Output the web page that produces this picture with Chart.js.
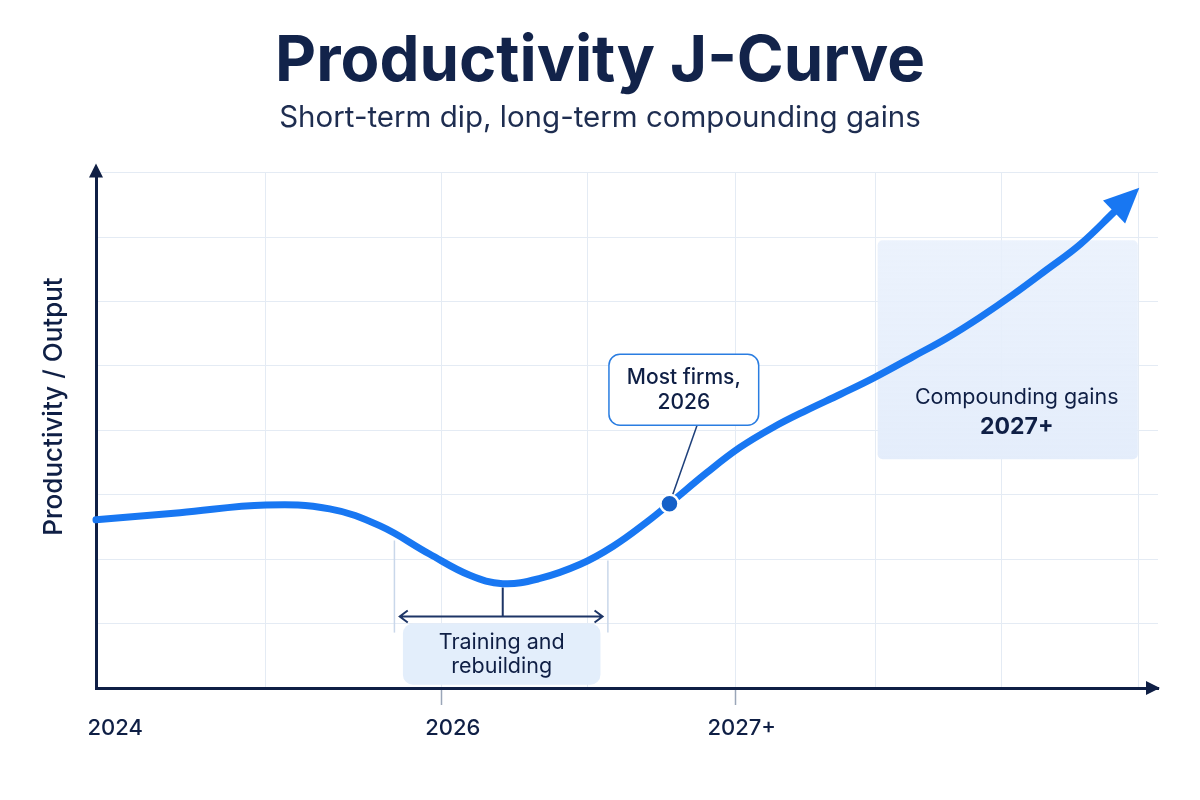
<!DOCTYPE html>
<html><head><meta charset="utf-8">
<script src="https://cdn.jsdelivr.net/npm/chart.js@4.4.1/dist/chart.umd.min.js"></script>
<style>html,body{margin:0;padding:0;background:#fff;}</style>
</head><body>
<canvas id="c" width="1200" height="800"></canvas>
<script>
// ---- data ----
const xValues      = [0, 7.9, 16.0, 22.0, 26.7, 31.4, 35.2, 38.3, 41.8, 45.6, 48.7, 51.9, 54.0, 57.5, 60.6, 63.7, 66.9, 70.1, 73.2, 76.9, 80.1, 83.2, 86.3, 89.5, 92.7, 96.0];
const productivity = [2.61, 2.72, 2.84, 2.78, 2.52, 2.08, 1.75, 1.62, 1.70, 1.92, 2.20, 2.58, 2.86, 3.34, 3.73, 4.04, 4.31, 4.56, 4.81, 5.14, 5.43, 5.75, 6.10, 6.49, 6.89, 7.41];
const markerX = [54.0];
const markerY = [2.86];
const xTickValues = [1.8, 33.6, 60.8];
const xTickLabels = ['2024', '2026', '2027+'];
const gridXValues = [16, 32.5, 46.3, 60.2, 73.4, 85.3, 98.2];
const markedGridX = [32.5, 60.2];
const titleText = 'Productivity J-Curve';
const subtitleText = 'Short-term dip, long-term compounding gains';
const yAxisTitle = 'Productivity / Output';
const dipLabel = ['Training and', 'rebuilding'];
const calloutLabel = ['Most firms,', '2026'];
const gainsLabel = ['Compounding gains', '2027+'];

// ---- styles ----
const NAVY = '#0f1f45';
const BLUE = '#1877f2';
const GRID = '#e4ebf4';
const FONT = 'Inter, "Noto Sans", sans-serif';

const annotations = {
  gainsBox: {x1: 73.6, x2: 98.1, y1: 3.55, y2: 6.95},
  gainsText: {x: 86.7, y1: 4.51, y2: 4.05},
  dipEdges: [{x: 28.1, y1: 0.86, y2: 2.29}, {x: 48.2, y1: 0.86, y2: 1.98}],
  bracket: {x1: 28.6, x2: 47.7, y: 1.11, stemX: 38.3, stemTop: 1.56},
  dipBox: {x1: 28.9, x2: 47.5, y1: 0.05, y2: 1.0},
  callout: {x1: 48.3, x2: 62.4, y1: 4.08, y2: 5.18, anchorX: 56.6},
  yTitle: {x: 54, y: 4.37}
};

function roundRect(ctx, x, y, w, h, r) {
  ctx.beginPath();
  ctx.moveTo(x + r, y);
  ctx.arcTo(x + w, y, x + w, y + h, r);
  ctx.arcTo(x + w, y + h, x, y + h, r);
  ctx.arcTo(x, y + h, x, y, r);
  ctx.arcTo(x, y, x + w, y, r);
  ctx.closePath();
}

const annotPlugin = {
  id: 'annot',
  beforeDatasetsDraw(chart) {
    const {ctx, scales: {x, y}} = chart;
    const X = v => x.getPixelForValue(v), Y = v => y.getPixelForValue(v);
    const a = annotations;
    ctx.save();
    // gains box
    const gx1 = X(a.gainsBox.x1), gx2 = X(a.gainsBox.x2), gy1 = Y(a.gainsBox.y2), gy2 = Y(a.gainsBox.y1);
    const grad = ctx.createLinearGradient(0, gy1, 0, gy2);
    grad.addColorStop(0, 'rgba(232,240,252,0.85)');
    grad.addColorStop(1, 'rgba(228,237,251,1)');
    ctx.fillStyle = grad;
    roundRect(ctx, gx1, gy1, gx2 - gx1, gy2 - gy1, 5);
    ctx.fill();
    ctx.fillStyle = NAVY;
    ctx.textAlign = 'center';
    ctx.textBaseline = 'middle';
    ctx.font = '400 21.5px ' + FONT;
    ctx.fillText(gainsLabel[0], X(a.gainsText.x), Y(a.gainsText.y1));
    ctx.font = '700 23px ' + FONT;
    ctx.fillText(gainsLabel[1], X(a.gainsText.x), Y(a.gainsText.y2));

    // dip edges
    ctx.strokeStyle = '#c9d7ea';
    ctx.lineWidth = 1.5;
    a.dipEdges.forEach(e => {
      ctx.beginPath();
      ctx.moveTo(X(e.x), Y(e.y2));
      ctx.lineTo(X(e.x), Y(e.y1));
      ctx.stroke();
    });
    // dip box
    const dx1 = X(a.dipBox.x1), dx2 = X(a.dipBox.x2), dy1 = Y(a.dipBox.y2), dy2 = Y(a.dipBox.y1);
    ctx.fillStyle = '#e3eefb';
    roundRect(ctx, dx1, dy1, dx2 - dx1, dy2 - dy1, 10);
    ctx.fill();
    ctx.fillStyle = NAVY;
    ctx.font = '400 21.5px ' + FONT;
    const dcx = (dx1 + dx2) / 2, dcy = (dy1 + dy2) / 2;
    ctx.fillText(dipLabel[0], dcx, dcy - 12);
    ctx.fillText(dipLabel[1], dcx, dcy + 12);

    // bracket
    const b = a.bracket;
    const bx1 = X(b.x1), bx2 = X(b.x2), by = Y(b.y);
    ctx.strokeStyle = '#1d3566';
    ctx.lineWidth = 2;
    ctx.beginPath();
    ctx.moveTo(bx1, by); ctx.lineTo(bx2, by);
    ctx.moveTo(bx1 + 8, by - 6); ctx.lineTo(bx1, by); ctx.lineTo(bx1 + 8, by + 6);
    ctx.moveTo(bx2 - 8, by - 6); ctx.lineTo(bx2, by); ctx.lineTo(bx2 - 8, by + 6);
    ctx.moveTo(X(b.stemX), Y(b.stemTop)); ctx.lineTo(X(b.stemX), by);
    ctx.stroke();

    // callout connector
    const c = a.callout;
    ctx.strokeStyle = '#1d3f7a';
    ctx.lineWidth = 1.5;
    ctx.beginPath();
    ctx.moveTo(X(c.anchorX), Y(c.y1));
    ctx.lineTo(X(markerX[0]), Y(markerY[0]));
    ctx.stroke();

    // y axis title
    ctx.translate(a.yTitle.x, Y(a.yTitle.y));
    ctx.rotate(-Math.PI / 2);
    ctx.fillStyle = NAVY;
    ctx.font = '500 26px ' + FONT;
    ctx.fillText(yAxisTitle, 0, 0);
    ctx.restore();
  },
  afterDatasetsDraw(chart) {
    const {ctx, chartArea, scales: {x, y}} = chart;
    const X = v => x.getPixelForValue(v), Y = v => y.getPixelForValue(v);
    ctx.save();
    // curve arrowhead
    const n = xValues.length;
    const px = X(xValues[n - 1]), py = Y(productivity[n - 1]);
    const qx = X(xValues[n - 2]), qy = Y(productivity[n - 2]);
    let dx = px - qx, dy = py - qy;
    const L = Math.hypot(dx, dy); dx /= L; dy /= L;
    const nx = -dy, ny = dx;
    ctx.fillStyle = BLUE;
    ctx.beginPath();
    ctx.moveTo(px + dx * 33, py + dy * 33);
    ctx.lineTo(px - dx * 2 + nx * 16, py - dy * 2 + ny * 16);
    ctx.lineTo(px - dx * 2 - nx * 16, py - dy * 2 - ny * 16);
    ctx.closePath();
    ctx.fill();

    // axis arrows
    ctx.fillStyle = NAVY;
    ctx.strokeStyle = NAVY;
    ctx.lineWidth = 3;
    const l = chartArea.left, bt = chartArea.bottom;
    ctx.beginPath(); ctx.moveTo(l, chartArea.top); ctx.lineTo(l, chartArea.top - 4); ctx.stroke();
    ctx.beginPath();
    ctx.moveTo(l, chartArea.top - 9);
    ctx.lineTo(l - 7, chartArea.top + 5);
    ctx.lineTo(l + 7, chartArea.top + 5);
    ctx.closePath(); ctx.fill();
    ctx.beginPath();
    ctx.moveTo(chartArea.right + 2, bt);
    ctx.lineTo(chartArea.right - 12, bt - 7);
    ctx.lineTo(chartArea.right - 12, bt + 7);
    ctx.closePath(); ctx.fill();

    // callout box
    const c = annotations.callout;
    const cx1 = X(c.x1), cx2 = X(c.x2), cy1 = Y(c.y2), cy2 = Y(c.y1);
    ctx.fillStyle = '#ffffff';
    ctx.strokeStyle = '#2a7de1';
    ctx.lineWidth = 1.5;
    roundRect(ctx, cx1, cy1, cx2 - cx1, cy2 - cy1, 11);
    ctx.fill(); ctx.stroke();
    ctx.fillStyle = NAVY;
    ctx.font = '500 21px ' + FONT;
    ctx.textAlign = 'center';
    ctx.textBaseline = 'middle';
    const ccx = (cx1 + cx2) / 2, ccy = (cy1 + cy2) / 2;
    ctx.fillText(calloutLabel[0], ccx, ccy - 12);
    ctx.fillText(calloutLabel[1], ccx, ccy + 13);
    ctx.restore();
  }
};

new Chart(document.getElementById('c'), {
  type: 'line',
  data: {
    datasets: [
      {
        label: 'Productivity',
        data: xValues.map((v, i) => ({x: v, y: productivity[i]})),
        borderColor: BLUE,
        borderWidth: 7,
        borderCapStyle: 'round',
        borderJoinStyle: 'round',
        pointRadius: 0,
        tension: 0.4,
        fill: false,
        clip: false,
        order: 2
      },
      {
        label: 'Most firms',
        data: markerX.map((v, i) => ({x: v, y: markerY[i]})),
        showLine: false,
        pointRadius: 9,
        pointBackgroundColor: '#1560c8',
        pointBorderColor: '#ffffff',
        pointBorderWidth: 2.5,
        clip: false,
        order: 1
      }
    ]
  },
  options: {
    responsive: false,
    animation: false,
    events: [],
    layout: {padding: {left: 0, right: 0, top: 0, bottom: 0}},
    plugins: {
      legend: {display: false},
      tooltip: {enabled: false},
      title: {
        display: true,
        text: titleText,
        color: '#12234a',
        font: {family: FONT, size: 63.5, weight: '700', lineHeight: 1.2},
        padding: {top: 24, bottom: 0}
      },
      subtitle: {
        display: true,
        text: subtitleText,
        color: '#1e2d50',
        font: {family: FONT, size: 29.5, weight: '400', lineHeight: 1.2},
        padding: {top: 0, bottom: 37}
      }
    },
    scales: {
      x: {
        type: 'linear',
        position: 'bottom',
        min: 0, max: 100,
        afterBuildTicks: s => { s.ticks = gridXValues.map(v => ({value: v})); },
        afterFit: s => { s.height = 0; },
        ticks: {display: false},
        grid: {
          color: GRID,
          lineWidth: 1,
          drawTicks: true,
          tickLength: 17,
          tickColor: ctx => (ctx.tick && markedGridX.includes(ctx.tick.value)) ? '#9aa6b8' : 'rgba(0,0,0,0)',
          tickWidth: 1.5
        },
        border: {display: true, color: NAVY, width: 3}
      },
      xl: {
        type: 'linear',
        position: 'bottom',
        min: 0, max: 100,
        afterBuildTicks: s => { s.ticks = xTickValues.map(v => ({value: v})); },
        afterFit: s => { s.height = 112; },
        ticks: {
          callback: (v, i) => xTickLabels[i],
          color: NAVY,
          font: {family: FONT, size: 22, weight: '500'},
          padding: 27,
          maxRotation: 0,
          autoSkip: false
        },
        grid: {display: false, drawTicks: false},
        border: {display: false}
      },
      y: {
        type: 'linear',
        position: 'left',
        min: 0, max: 8,
        afterFit: s => { s.width = 96; },
        ticks: {display: false, stepSize: 1},
        grid: {color: GRID, lineWidth: 1, drawTicks: false},
        border: {display: true, color: NAVY, width: 3}
      },
      yr: {
        type: 'linear',
        position: 'right',
        min: 0, max: 8,
        afterFit: s => { s.width = 42; },
        ticks: {display: false},
        grid: {display: false, drawTicks: false},
        border: {display: false}
      }
    }
  },
  plugins: [annotPlugin]
});
</script>
</body></html>
